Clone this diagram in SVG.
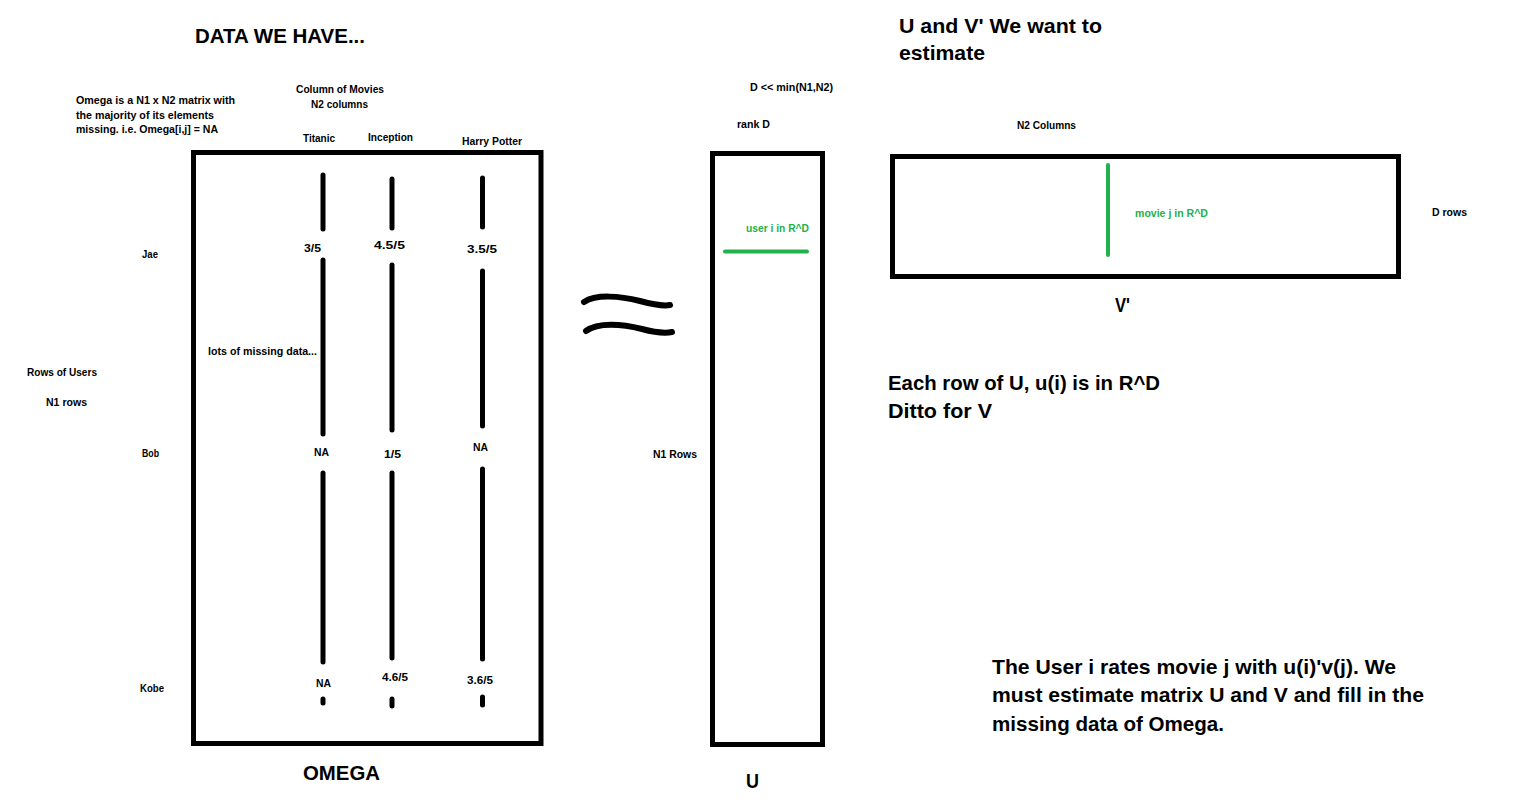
<svg xmlns="http://www.w3.org/2000/svg" width="1517" height="804" viewBox="0 0 1517 804">
<style>
text{font-family:"Liberation Sans",Arial,sans-serif;font-weight:bold;fill:#000}
.s{font-size:11px}
.l{font-size:21px}
.g{fill:#22b14c}
.box{fill:none;stroke:#000;stroke-width:5}
.col{stroke:#000;stroke-width:5;stroke-linecap:round;fill:none}
.gl{stroke:#22b14c;stroke-width:4;stroke-linecap:round;fill:none}
</style>
<rect width="1517" height="804" fill="#fff"/>

<g id="headings">
<text class="l" x="195" y="43" textLength="170" lengthAdjust="spacingAndGlyphs">DATA WE HAVE...</text>
<text class="l" x="899" y="33" textLength="203" lengthAdjust="spacingAndGlyphs">U and V' We want to</text>
<text class="l" x="899" y="60" textLength="86" lengthAdjust="spacingAndGlyphs">estimate</text>
<text class="s" x="76" y="104" textLength="159" lengthAdjust="spacingAndGlyphs">Omega is a N1 x N2 matrix with</text>
<text class="s" x="76" y="119" textLength="138" lengthAdjust="spacingAndGlyphs">the majority of its elements</text>
<text class="s" x="76" y="133" textLength="142" lengthAdjust="spacingAndGlyphs">missing. i.e. Omega[i,j] = NA</text>
<text class="s" x="296" y="93" textLength="88" lengthAdjust="spacingAndGlyphs">Column of Movies</text>
<text class="s" x="311" y="108" textLength="57" lengthAdjust="spacingAndGlyphs">N2 columns</text>
<text class="s" x="27" y="376" textLength="70" lengthAdjust="spacingAndGlyphs">Rows of Users</text>
<text class="s" x="46" y="406" textLength="41" lengthAdjust="spacingAndGlyphs">N1 rows</text>
</g>

<g id="omega">
<rect class="box" x="193.5" y="152.5" width="347.5" height="591"/>
<text class="l" x="303" y="780" textLength="77" lengthAdjust="spacingAndGlyphs">OMEGA</text>
<text class="s" x="303" y="142" textLength="32" lengthAdjust="spacingAndGlyphs">Titanic</text>
<text class="s" x="368" y="141" textLength="45" lengthAdjust="spacingAndGlyphs">Inception</text>
<text class="s" x="462" y="145" textLength="60" lengthAdjust="spacingAndGlyphs">Harry Potter</text>
<text class="s" x="142" y="258" textLength="16" lengthAdjust="spacingAndGlyphs">Jae</text>
<text class="s" x="142" y="457" textLength="17" lengthAdjust="spacingAndGlyphs">Bob</text>
<text class="s" x="140" y="692" textLength="24" lengthAdjust="spacingAndGlyphs">Kobe</text>
<text class="s" x="208" y="355" textLength="109" lengthAdjust="spacingAndGlyphs">lots of missing data...</text>
</g>

<g id="omega-columns">
<line class="col" x1="323" y1="175" x2="323" y2="229"/>
<line class="col" x1="323" y1="260" x2="323" y2="434"/>
<line class="col" x1="323" y1="473" x2="323" y2="662"/>
<line class="col" x1="323" y1="699" x2="323" y2="703"/>
<line class="col" x1="392" y1="179" x2="392" y2="228"/>
<line class="col" x1="392" y1="265" x2="392" y2="430"/>
<line class="col" x1="392" y1="473" x2="392" y2="658"/>
<line class="col" x1="392" y1="699" x2="392" y2="706"/>
<line class="col" x1="482.5" y1="178" x2="482.5" y2="227"/>
<line class="col" x1="482.5" y1="271" x2="482.5" y2="426"/>
<line class="col" x1="482.5" y1="469" x2="482.5" y2="659"/>
<line class="col" x1="482.5" y1="697" x2="482.5" y2="705"/>
</g>

<g id="ratings">
<text class="s" x="304" y="252" textLength="17" lengthAdjust="spacingAndGlyphs">3/5</text>
<text class="s" x="374" y="249" textLength="31" lengthAdjust="spacingAndGlyphs">4.5/5</text>
<text class="s" x="467" y="253" textLength="30" lengthAdjust="spacingAndGlyphs">3.5/5</text>
<text class="s" x="314" y="456" textLength="15" lengthAdjust="spacingAndGlyphs">NA</text>
<text class="s" x="384" y="458" textLength="17" lengthAdjust="spacingAndGlyphs">1/5</text>
<text class="s" x="473" y="451" textLength="15" lengthAdjust="spacingAndGlyphs">NA</text>
<text class="s" x="316" y="687" textLength="15" lengthAdjust="spacingAndGlyphs">NA</text>
<text class="s" x="382" y="681" textLength="26" lengthAdjust="spacingAndGlyphs">4.6/5</text>
<text class="s" x="467" y="684" textLength="26" lengthAdjust="spacingAndGlyphs">3.6/5</text>
</g>

<g id="approx">
<path class="col" style="stroke-width:6" d="M584,302 C596,294 620,296 640,301 C655,305 665,306 670,305"/>
<path class="col" style="stroke-width:6" d="M586,331 C598,322 622,324 642,329 C657,333 667,333 672,332"/>
</g>

<g id="u-matrix">
<rect class="box" x="712.5" y="153.5" width="110" height="591"/>
<line class="gl" x1="725" y1="251.5" x2="807" y2="251.5"/>
<text class="s g" x="746" y="232" textLength="63" lengthAdjust="spacingAndGlyphs">user i in R^D</text>
<text class="s" x="750" y="91" textLength="83" lengthAdjust="spacingAndGlyphs">D &lt;&lt; min(N1,N2)</text>
<text class="s" x="737" y="128" textLength="33" lengthAdjust="spacingAndGlyphs">rank D</text>
<text class="s" x="653" y="458" textLength="44" lengthAdjust="spacingAndGlyphs">N1 Rows</text>
<text class="l" x="746" y="788" textLength="13" lengthAdjust="spacingAndGlyphs">U</text>
</g>

<g id="v-matrix">
<rect class="box" x="892.5" y="156.5" width="506" height="120"/>
<line class="gl" x1="1108" y1="165" x2="1108" y2="255"/>
<text class="s g" x="1135" y="217" textLength="73" lengthAdjust="spacingAndGlyphs">movie j in R^D</text>
<text class="s" x="1017" y="129" textLength="59" lengthAdjust="spacingAndGlyphs">N2 Columns</text>
<text class="s" x="1432" y="216" textLength="35" lengthAdjust="spacingAndGlyphs">D rows</text>
<text class="l" x="1115" y="312" textLength="15" lengthAdjust="spacingAndGlyphs">V'</text>
</g>

<g id="notes">
<text class="l" x="888" y="390" textLength="272" lengthAdjust="spacingAndGlyphs">Each row of U, u(i) is in R^D</text>
<text class="l" x="888" y="418" textLength="104" lengthAdjust="spacingAndGlyphs">Ditto for V</text>
<text class="l" x="992" y="674" textLength="404" lengthAdjust="spacingAndGlyphs">The User i rates movie j with u(i)'v(j). We</text>
<text class="l" x="992" y="702" textLength="432" lengthAdjust="spacingAndGlyphs">must estimate matrix U and V and fill in the</text>
<text class="l" x="992" y="731" textLength="232" lengthAdjust="spacingAndGlyphs">missing data of Omega.</text>
</g>
</svg>
